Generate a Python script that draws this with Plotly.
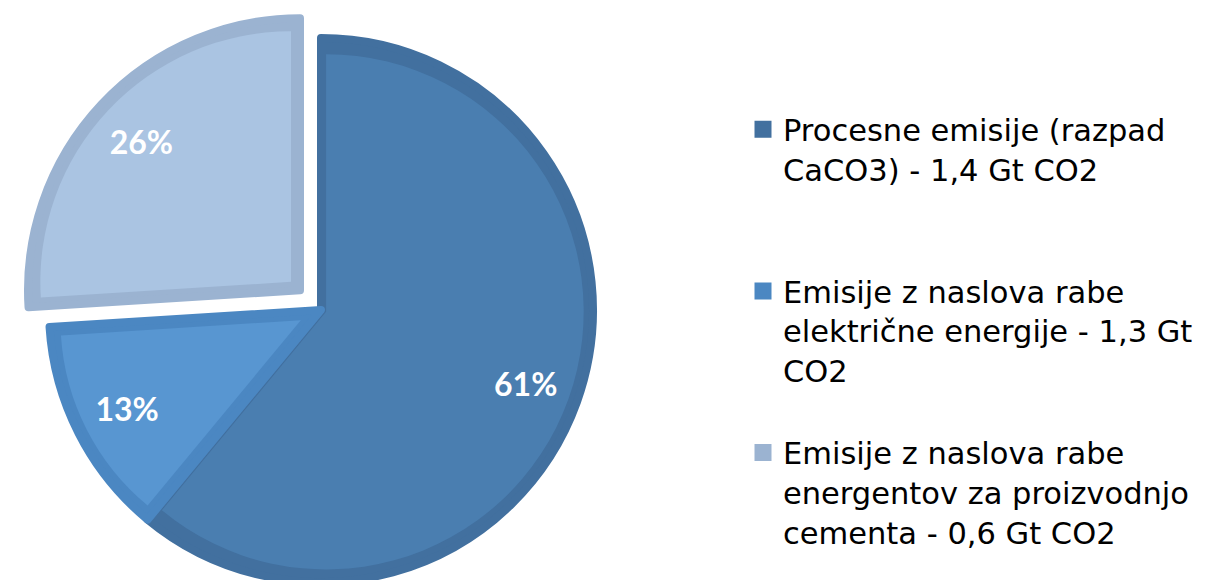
import math
import plotly.graph_objects as go

# ---- data -------------------------------------------------------------
categories = [
    "Procesne emisije (razpad<br>CaCO3) - 1,4 Gt CO2",
    "Emisije z naslova rabe<br>električne energije - 1,3 Gt<br>CO2",
    "Emisije z naslova rabe<br>energentov za proizvodnjo<br>cementa - 0,6 Gt CO2",
]
shares = [61, 13, 26]  # percent

# ---- styles -----------------------------------------------------------
fill_colors = ["#4A7EB0", "#5896D1", "#AAC4E2"]
edge_colors = ["#42709F", "#4B87C2", "#9BB3D1"]
exploded = [False, False, True]

W, H = 1218, 612
CX, CY = 321, 310          # pie centre (px)
R_OUT = 272                # outer radius of the slice geometry (px)
EDGE_W = 8                 # outline width of the outer (edge-coloured) slices
EXPLODE = 28.8             # distance the exploded slice is pulled out (px)
INSET = 9                  # inner panel inset from slice geometry (px)
BAND = 13                  # visible edge band (px)


def domain_for(half):
    return dict(
        x=[(CX - half) / W, (CX + half) / W],
        y=[1 - (CY + half) / H, 1 - (CY - half) / H],
    )


def padded(lbl, n=4):
    lines = lbl.count("<br>") + 1
    return lbl + "<br>\u00a0" * (n - lines)


legend_labels = [padded(c) for c in categories]
n = len(shares)
total = float(sum(shares))
common = dict(labels=legend_labels, values=shares, sort=False,
              direction="clockwise", rotation=0)

fig = go.Figure()

# 1) outer slices in the edge colour
pull_out = [EXPLODE / R_OUT if e else 0 for e in exploded]
half_out = R_OUT * (1 + max(pull_out))
fig.add_trace(go.Pie(
    **common,
    pull=pull_out,
    domain=domain_for(half_out),
    marker=dict(colors=edge_colors, line=dict(color=edge_colors, width=EDGE_W)),
    textinfo="none",
    hoverinfo="label+percent",
    showlegend=True,
))

# 2) inner panels (slightly smaller, shifted along their bisector)
r_vis = R_OUT + EDGE_W / 2
for i in range(n):
    half_angle = math.pi * shares[i] / total
    if half_angle < math.pi / 2:
        e = INSET / math.sin(half_angle)
    else:
        e = INSET * 0.6
    r_in = r_vis - BAND - e
    shift = e + (EXPLODE if exploded[i] else 0)
    pulls = [0] * n
    pulls[i] = shift / r_in
    cols = ["rgba(0,0,0,0)"] * n
    cols[i] = fill_colors[i]
    fig.add_trace(go.Pie(
        **common,
        pull=pulls,
        domain=domain_for(r_in + shift),
        marker=dict(colors=cols, line=dict(width=0)),
        textinfo="none",
        hoverinfo="skip",
        showlegend=False,
    ))

# 3) percentage labels (transparent ring so that labels sit near the rim)
fig.add_trace(go.Pie(
    **common,
    pull=pull_out,
    hole=0.60,
    domain=domain_for(half_out),
    marker=dict(colors=["rgba(0,0,0,0)"] * n, line=dict(width=0)),
    textinfo="percent",
    textposition="inside",
    insidetextorientation="horizontal",
    insidetextfont=dict(family="Lato", size=32, color="#FFFFFF", weight="bold"),
    hoverinfo="skip",
    showlegend=False,
))

fig.update_layout(
    width=W,
    height=H,
    margin=dict(l=0, r=0, t=0, b=0),
    paper_bgcolor="#FFFFFF",
    plot_bgcolor="#FFFFFF",
    showlegend=True,
    legend=dict(
        x=743 / W,
        y=1 - 103 / H,
        xanchor="left",
        yanchor="top",
        valign="top",
        traceorder="normal",
        font=dict(family="DejaVu Sans", size=30.5, color="#000000"),
        bgcolor="rgba(0,0,0,0)",
    ),
)

fig.write_html(
    "out.html",
    config={"displayModeBar": False},
    post_script=(
        "document.body.style.margin='0';"
        "document.body.style.overflow='hidden';"
        "document.documentElement.style.overflow='hidden';"
    ),
)
